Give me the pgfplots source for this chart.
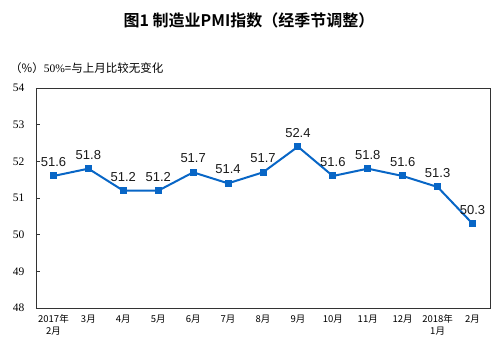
\documentclass[border=0pt]{standalone}
\usepackage{pgfplots}
\pgfplotsset{compat=1.18}
\usepackage{fontspec}
\setmainfont{Liberation Serif}
\newfontfamily\cjk{Noto Sans CJK SC}
\newfontfamily\cjkb{Noto Sans CJK SC}[BoldFont={* Bold}]
\newfontfamily\arial{Liberation Sans}
\definecolor{lineblue}{HTML}{0866C6}
\begin{document}
\begin{tikzpicture}[x=1pt,y=1pt]
\useasboundingbox (-36,-47) rectangle (462,308);
\begin{axis}[
  at={(0,0)}, anchor=south west,
  scale only axis, width=454pt, height=220pt,
  xmin=-0.5, xmax=12.5, ymin=48, ymax=54,
  ytick={48,49,50,51,52,53,54},
  xtick={0,...,12},
  xticklabels={{2017年\\2月},3月,4月,5月,6月,7月,8月,9月,10月,11月,12月,{2018年\\1月},2月},
  xticklabel style={font=\cjk\fontsize{9.5}{12}\selectfont, align=center, anchor=north, yshift=-3pt},
  yticklabel style={font=\fontsize{11.5}{12}\selectfont, anchor=east, xshift=-8pt},
  /pgf/number format/assume math mode=true,
  major x tick style={draw=none},
  tick align=inside,
  ytick pos=left,
  major tick length=4pt,
  axis line style={line width=0.8pt, black!80},
  tick style={black!80, line width=0.6pt},
  clip=false,
  nodes near coords,
  nodes near coords style={font=\arial\fontsize{13}{14}\selectfont, anchor=south, yshift=5pt, text=black!90},
  point meta=explicit symbolic,
]
\addplot[color=lineblue, line width=2pt, mark=square*, mark size=2.5pt, mark options={solid}]
 coordinates {
 (0,51.6) [51.6]
 (1,51.8) [51.8]
 (2,51.2) [51.2]
 (3,51.2) [51.2]
 (4,51.7) [51.7]
 (5,51.4) [51.4]
 (6,51.7) [51.7]
 (7,52.4) [52.4]
 (8,51.6) [51.6]
 (9,51.8) [51.8]
 (10,51.6) [51.6]
 (11,51.3) [51.3]
 (12,50.3) [50.3]
 };
\end{axis}
\node[font=\cjkb\bfseries\fontsize{16}{18}\selectfont] at (213,288) {图1\ 制造业PMI指数（经季节调整）};
\node[font=\cjk\fontsize{11.5}{13}\selectfont, anchor=west, inner sep=0pt] at (-26,240) {（\%）{\rmfamily 50\%}=与上月比较无变化};
\end{tikzpicture}
\end{document}
